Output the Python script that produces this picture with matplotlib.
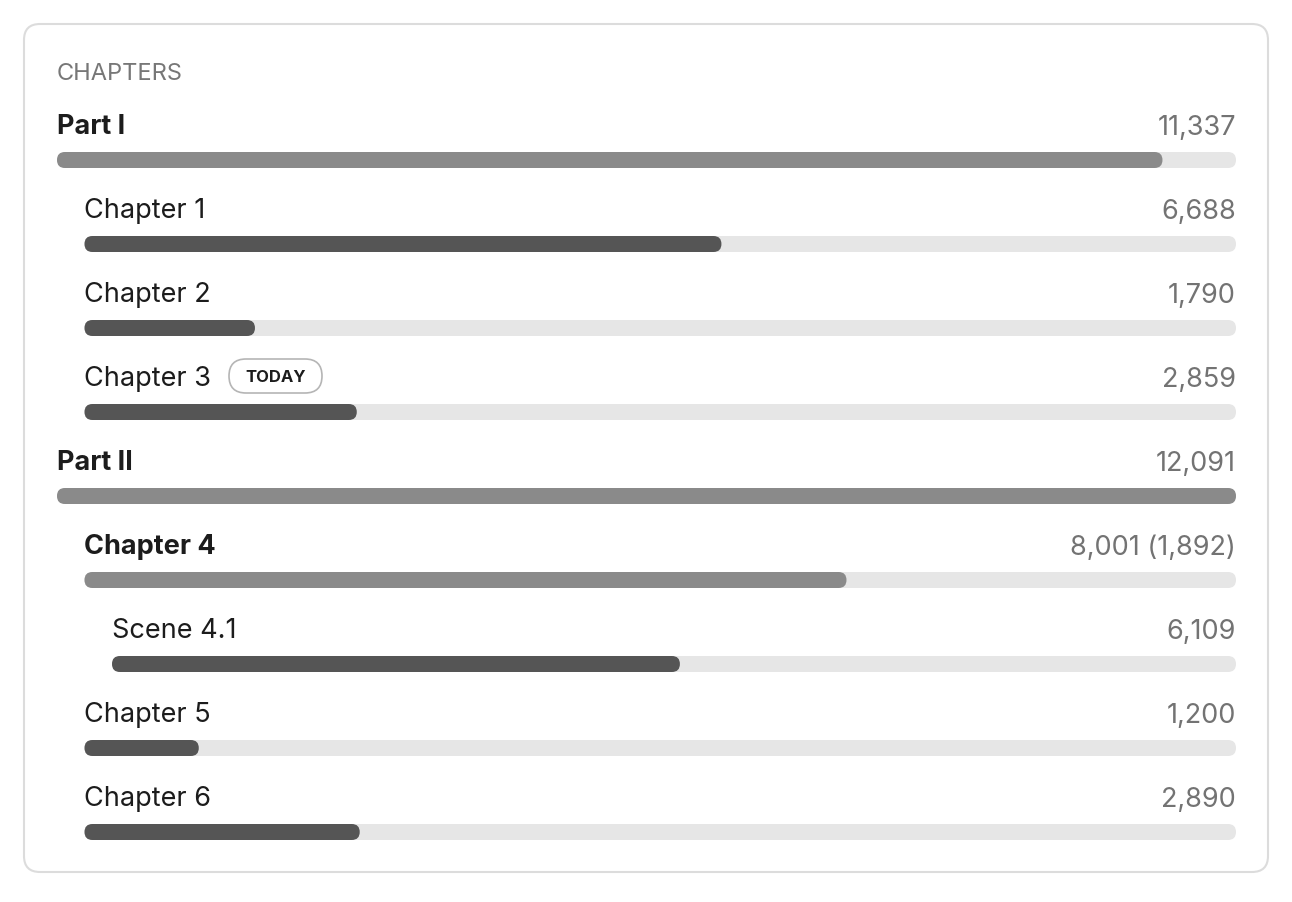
import matplotlib
matplotlib.use("Agg")
import matplotlib.pyplot as plt
from matplotlib.patches import FancyBboxPatch

plt.rcParams['font.family'] = ['Inter', 'DejaVu Sans']

# outline rows
names = ["Part I", "Chapter 1", "Chapter 2", "Chapter 3", "Part II",
         "Chapter 4", "Scene 4.1", "Chapter 5", "Chapter 6"]
words = [11337, 6688, 1790, 2859, 12091, 8001, 6109, 1200, 2890]
own_words = [None, None, None, None, None, 1892, None, None, None]
depth = [0, 1, 1, 1, 0, 1, 2, 1, 1]
has_children = [True, False, False, False, True, True, False, False, False]
today = "Chapter 3"

W, H = 1292, 902
fig = plt.figure(figsize=(W / 100, H / 100), dpi=100)
ax = fig.add_axes([0, 0, 1, 1])
ax.set_xlim(0, W)
ax.set_ylim(H, 0)
ax.axis('off')

# card
card = FancyBboxPatch((24, 24), 1244, 848, boxstyle="round,pad=0,rounding_size=16",
                      fc='white', ec='#dcdcdc', lw=1.5)
ax.add_patch(card)

ax.text(57, 80, "CHAPTERS", fontsize=17, color='#777777', va='baseline')

right = 1236
bar_h = 16
top = 160
step = 84
vmax = max(words)

for i, name in enumerate(names):
    yc = top + i * step
    x0 = 57 + depth[i] * 27.5
    bold = has_children[i]
    ax.text(x0, yc - 25.5, name, fontsize=19.5, color='#1c1c1c', va='baseline',
            fontweight='bold' if bold else 'normal')
    label = f"{words[i]:,}"
    if own_words[i] is not None:
        label += f" ({own_words[i]:,})"
    ax.text(right, yc - 25.5, label, fontsize=19.5, color='#737373', va='baseline', ha='right')

    if name == today:
        ax.add_patch(FancyBboxPatch((229, yc - 53), 93, 34, boxstyle="round,pad=0,rounding_size=17",
                                    fc='white', ec='#b5b5b5', lw=1.2))
        ax.text(275.5, yc - 35, "TODAY", fontsize=12, fontweight='bold', color='#1c1c1c',
                ha='center', va='center')

    width = right - x0
    ax.add_patch(FancyBboxPatch((x0, yc - bar_h / 2), width, bar_h,
                                boxstyle="round,pad=0,rounding_size=8", fc='#e6e6e6', ec='none'))
    fill = width * words[i] / vmax
    ax.add_patch(FancyBboxPatch((x0, yc - bar_h / 2), fill, bar_h,
                                boxstyle="round,pad=0,rounding_size=8",
                                fc='#8a8a8a' if has_children[i] else '#555555', ec='none'))

fig.savefig("out.png", dpi=100)
